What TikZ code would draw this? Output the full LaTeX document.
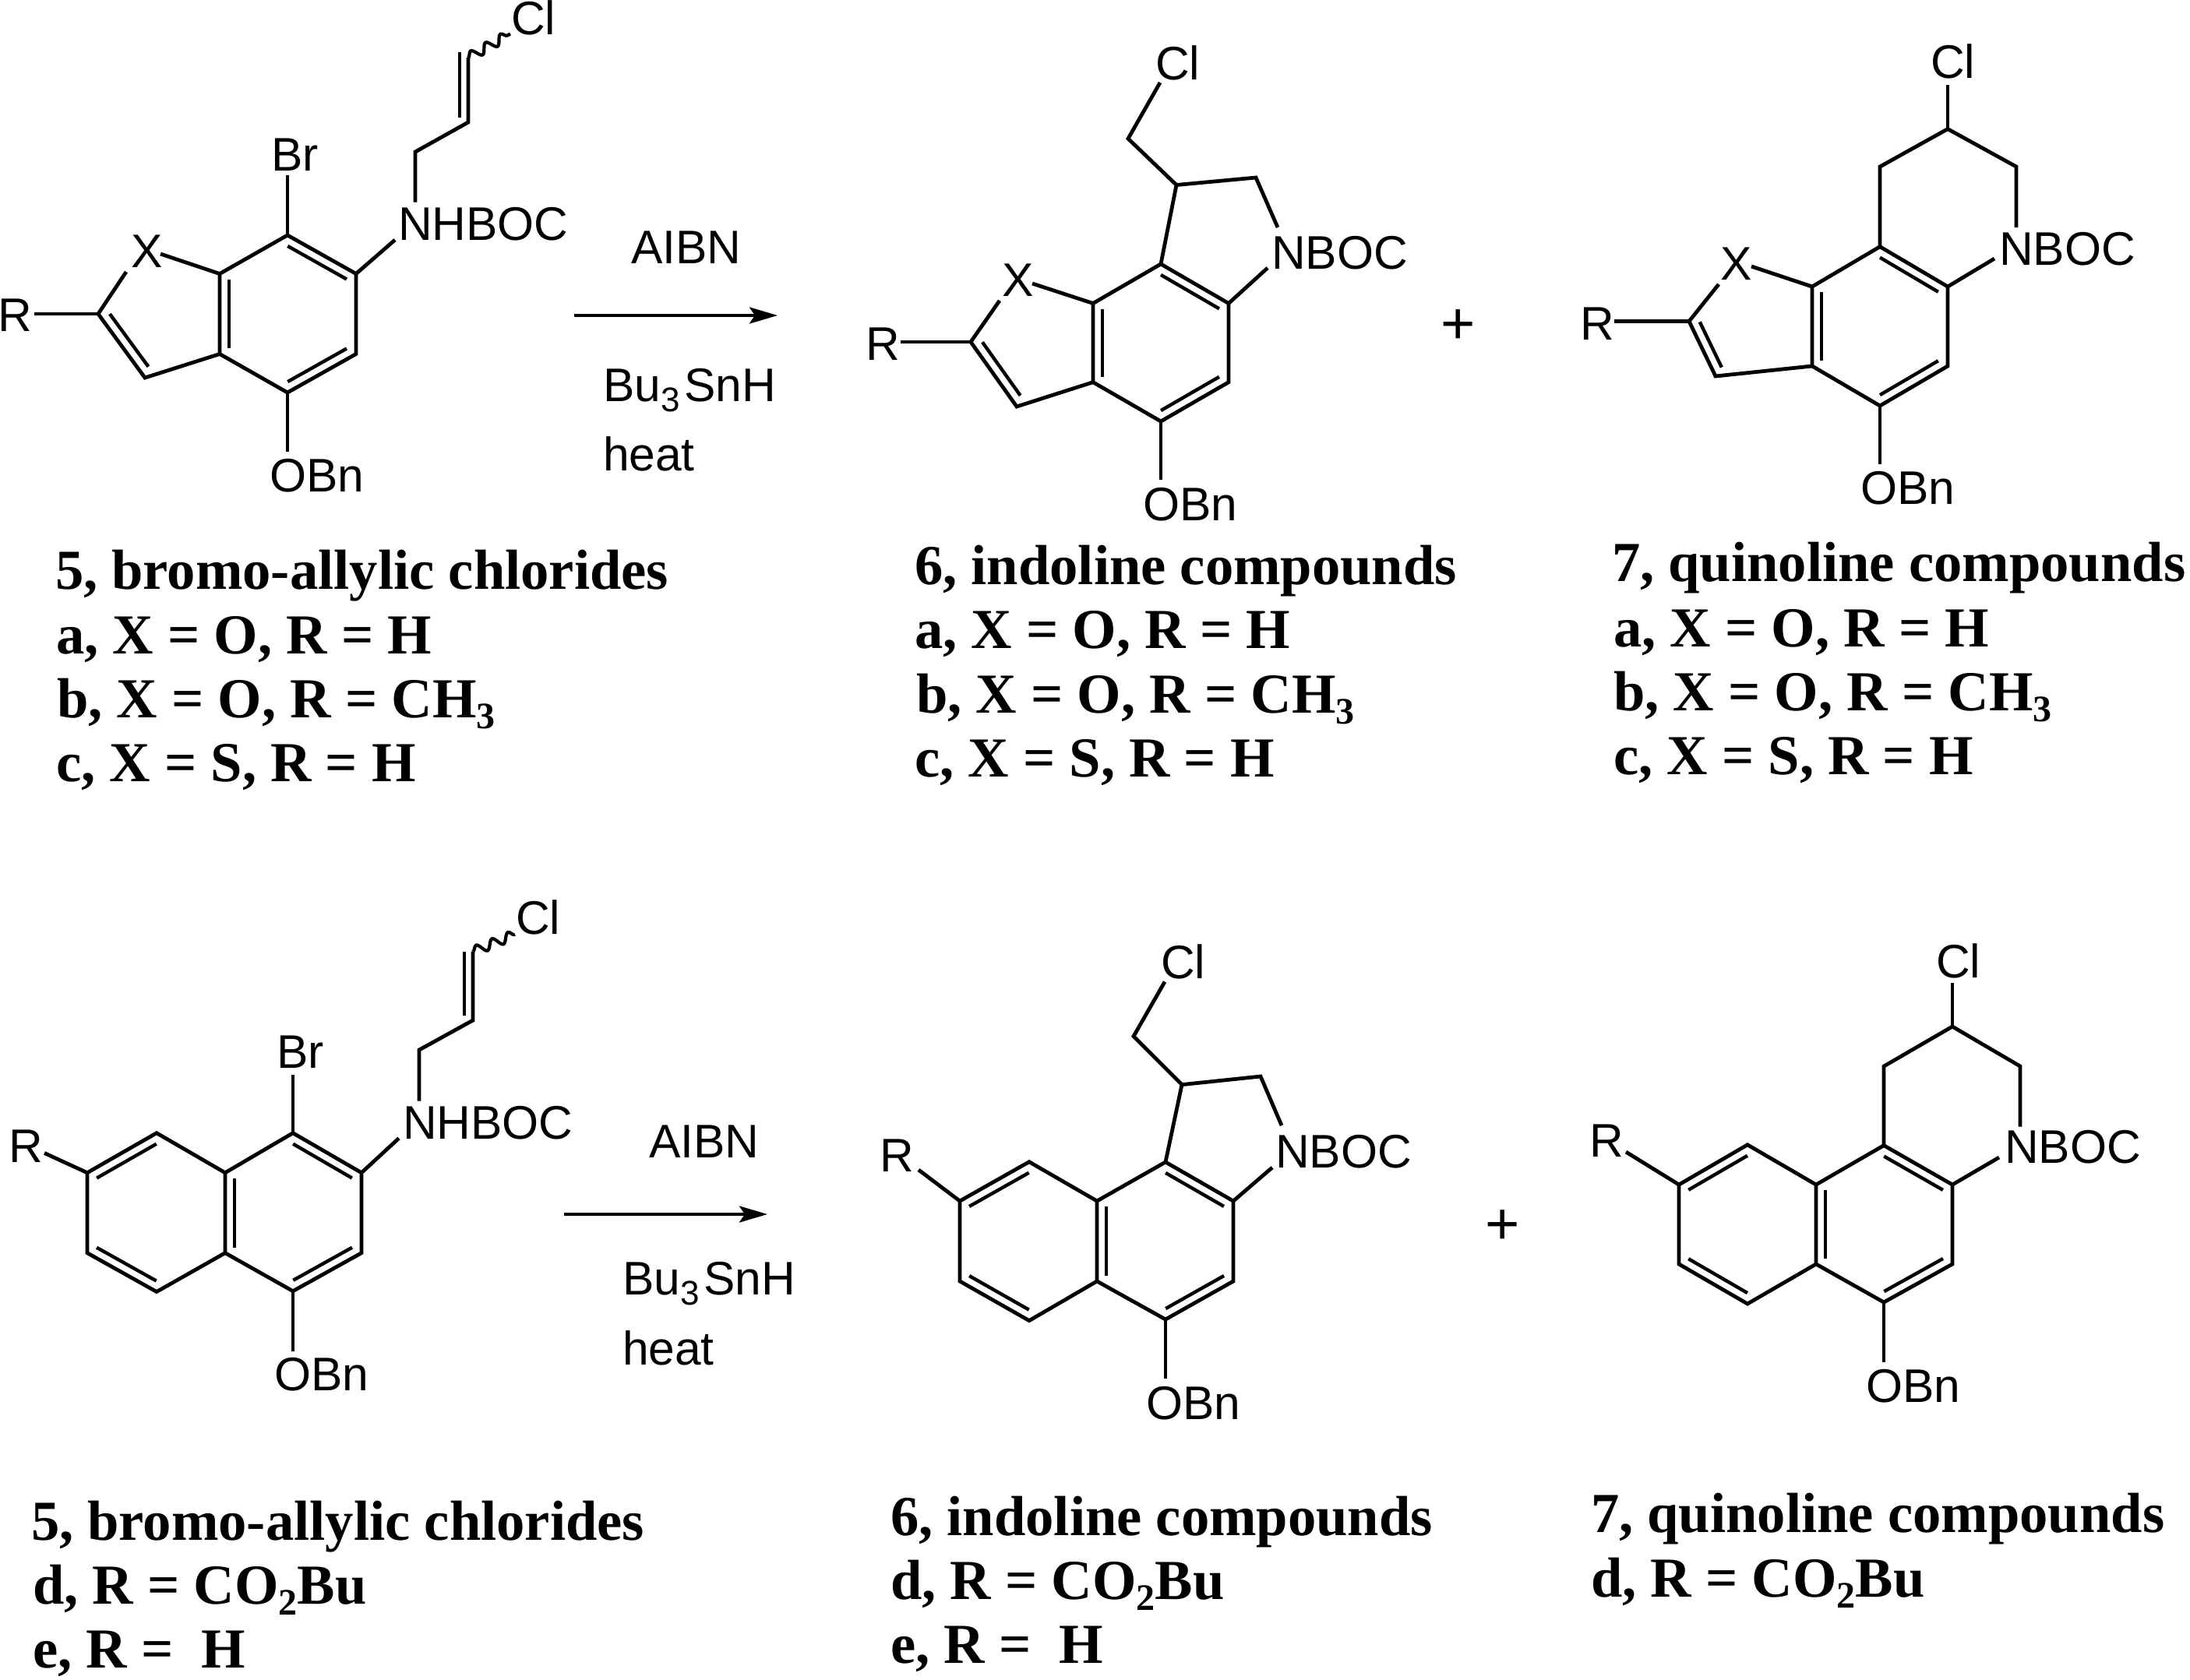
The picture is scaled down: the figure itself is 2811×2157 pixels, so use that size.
\documentclass[tikz,border=0pt]{standalone}
\usepackage{fontspec}
\setmainfont{Liberation Serif}
\newfontfamily\arialish{Liberation Sans}
\usetikzlibrary{calc,arrows.meta,decorations.pathmorphing}
\tikzset{
  x=1pt,y=-1pt,
  bond/.style={line width=4.8pt,line join=miter,line cap=butt,black},
  wavy/.style={line width=4.2pt,black,decorate,decoration={snake,amplitude=6pt,segment length=22pt}},
  rxnarrow/.style={line width=4pt,black,-{Stealth[length=36pt,width=21pt,inset=7pt]}},
  atom/.style={anchor=base west,inner sep=0pt,outer sep=0pt,font=\arialish\fontsize{60.5}{66}\selectfont},
  capt/.style={anchor=base west,inner sep=0pt,outer sep=0pt,font=\bfseries\fontsize{72.6}{80}\selectfont},
}
\newcommand{\capsub}[1]{\raisebox{-14pt}{\fontsize{48}{50}\selectfont #1}}
\newcommand{\reagsub}[1]{\raisebox{-13pt}{\fontsize{44}{46}\selectfont #1}\hspace{6pt}}
% inner line of a double bond, on the right-hand side going from a to b
\newcommand{\dbl}[3][.07]{\draw[bond,line width=4.4pt]
  ($(#2)!#1!(#3)!12pt!-90:(#3)$) -- ($(#3)!#1!(#2)!12pt!90:(#2)$);}
% bond from a vertex to a point fixed relative to a label
\newcommand{\lnk}[4]{\draw[bond] (#1) -- ([shift={(#3,#4)}]#2.base west);}
\begin{document}
\begin{tikzpicture}
\useasboundingbox (0,0) rectangle (2811,2157);
\path[fill=white] (0,0) rectangle (2811,2157);

%% ---------- structure 5 (top) ----------
\path (369,302) coordinate (at) (457,351.5) coordinate (aur) (457,454.5) coordinate (alr)
      (369,504) coordinate (ab) (282,454.5) coordinate (all) (282,351.5) coordinate (aul)
      (186,485) coordinate (ac3) (126,403) coordinate (ac2)
      (533,195) coordinate (ach) (601,157) coordinate (avi) (601,74) coordinate (avj)
      (590,151) coordinate (ain) (590,67.5) coordinate (aio);
\node[atom] (aR) at (-2,425) {R};
\node[atom] (aX) at (168,343) {X};
\node[atom] (aBr) at (348,219) {Br};
\node[atom] (aN) at (511,308) {NHBOC};
\node[atom] (aCl) at (656,45) {Cl};
\node[atom] (aO) at (346,631) {OBn};
\draw[bond] (at) -- (aur) -- (alr) -- (ab) -- (all) -- (aul) -- cycle;
\draw[bond] (aul) -- ([shift={(38,-17)}]aX.base west);
\draw[bond] (all) -- (ac3) -- (ac2) -- ([shift={(-6,6)}]aX.base west);
\lnk{ac2}{aR}{46}{-22}
\lnk{at}{aBr}{21}{5.5}
\lnk{ab}{aO}{23}{-51}
\lnk{aur}{aN}{-4}{0}
\draw[bond] ([shift={(22,-48.5)}]aN.base west) -- (ach) -- (avi) -- (avj);
\draw[bond,line width=4.4pt] (ain) -- (aio);
\draw[wavy] (avj) -- ([shift={(-1,-1.5)}]aCl.base west);
\dbl{at}{aur} \dbl{alr}{ab} \dbl{all}{aul} \dbl[.087]{ac3}{ac2}

%% ---------- structure 6 (top) ----------
\path (1490,339) coordinate (bt) (1577,389.5) coordinate (bur) (1577,490.7) coordinate (blr)
      (1490,541) coordinate (bb) (1403,490.7) coordinate (bll) (1403,389.5) coordinate (bul)
      (1305,522) coordinate (bc3) (1246,439) coordinate (bc2)
      (1510,237.5) coordinate (bch) (1612,228) coordinate (bcj) (1448,178) coordinate (bck);
\node[atom] (bR) at (1111,462) {R};
\node[atom] (bX) at (1286,380) {X};
\node[atom] (bN) at (1632,345) {NBOC};
\node[atom] (bCl) at (1483,102.5) {Cl};
\node[atom] (bO) at (1467,668) {OBn};
\draw[bond] (bt) -- (bur) -- (blr) -- (bb) -- (bll) -- (bul) -- cycle;
\draw[bond] (bul) -- ([shift={(39,-16)}]bX.base west);
\draw[bond] (bll) -- (bc3) -- (bc2) -- ([shift={(-3,6)}]bX.base west);
\lnk{bc2}{bR}{45}{-23}
\lnk{bb}{bO}{23}{-52}
\lnk{bur}{bN}{-5}{-1}
\draw[bond] (bt) -- (bch) -- (bcj) -- ([shift={(8,-53)}]bN.base west);
\draw[bond] (bch) -- (bck) -- ([shift={(6,3.5)}]bCl.base west);
\dbl{bt}{bur} \dbl{blr}{bb} \dbl{bll}{bul} \dbl[.087]{bc3}{bc2}

%% ---------- structure 7 (top) ----------
\path (2413,316.7) coordinate (ct) (2500,368) coordinate (cur) (2500,470) coordinate (clr)
      (2413,521) coordinate (cb) (2326,470) coordinate (cll) (2326,368) coordinate (cul)
      (2202,483) coordinate (cc3) (2168,412.5) coordinate (cc2)
      (2588,214) coordinate (cnu) (2500,165.6) coordinate (cct) (2413,214) coordinate (ccl);
\node[atom] (cR) at (2028,436) {R};
\node[atom] (cX) at (2208,359) {X};
\node[atom] (cN) at (2566,340) {NBOC};
\node[atom] (cCl) at (2478,100) {Cl};
\node[atom] (cO) at (2388,647.5) {OBn};
\draw[bond] (ct) -- (cur) -- (clr) -- (cb) -- (cll) -- (cul) -- cycle;
\draw[bond] (cul) -- ([shift={(40,-17)}]cX.base west);
\draw[bond] (cll) -- (cc3) -- (cc2) -- ([shift={(-2,6)}]cX.base west);
\lnk{cc2}{cR}{44}{-23.5}
\lnk{cb}{cO}{25}{-51.5}
\lnk{cur}{cN}{-6}{-8}
\draw[bond] (ct) -- (ccl) -- (cct) -- (cnu) -- ([shift={(22,-48)}]cN.base west);
\lnk{cct}{cCl}{22}{8.6}
\dbl{ct}{cur} \dbl{clr}{cb} \dbl{cll}{cul} \dbl[.087]{cc3}{cc2}

%% ---------- structure 5 (bottom) ----------
\path (376,1454.7) coordinate (dt) (464,1505.7) coordinate (dur) (464,1608.7) coordinate (dlr)
      (376,1657.7) coordinate (db) (289,1608.7) coordinate (dll) (289,1505.7) coordinate (dul)
      (201,1454.7) coordinate (dlt) (112,1505.7) coordinate (dlu) (112,1608.7) coordinate (dld)
      (201,1658.5) coordinate (dlb)
      (538,1348) coordinate (dch) (607,1310) coordinate (dvi) (607,1221.7) coordinate (dvj)
      (596,1304) coordinate (din) (596,1221.7) coordinate (dio);
\node[atom] (dR) at (11,1492.7) {R};
\node[atom] (dBr) at (355,1371.6) {Br};
\node[atom] (dN) at (517,1462) {NHBOC};
\node[atom] (dCl) at (662,1199.4) {Cl};
\node[atom] (dO) at (352,1785) {OBn};
\draw[bond] (dt) -- (dur) -- (dlr) -- (db) -- (dll) -- (dul) -- cycle;
\draw[bond] (dul) -- (dlt) -- (dlu) -- (dld) -- (dlb) -- (dll);
\lnk{dlu}{dR}{46}{-12.3}
\lnk{dt}{dBr}{21}{8.4}
\lnk{db}{dO}{24}{-50.5}
\lnk{dur}{dN}{-5}{-.6}
\draw[bond] ([shift={(21,-48.3)}]dN.base west) -- (dch) -- (dvi) -- (dvj);
\draw[bond,line width=4.4pt] (din) -- (dio);
\draw[wavy] (dvj) -- ([shift={(-1,.4)}]dCl.base west);
\dbl{dt}{dur} \dbl{dlr}{db} \dbl{dll}{dul} \dbl{dlu}{dlt} \dbl{dlb}{dld}

%% ---------- structure 6 (bottom) ----------
\path (1496,1492) coordinate (et) (1583,1542) coordinate (eur) (1583,1645) coordinate (elr)
      (1496,1694) coordinate (eb) (1408,1645) coordinate (ell) (1408,1542) coordinate (eul)
      (1321,1491.7) coordinate (elt) (1232,1542) coordinate (elu) (1232,1645) coordinate (eld)
      (1321,1695.6) coordinate (elb)
      (1517,1392.6) coordinate (ech) (1618,1382) coordinate (ecj) (1455,1330.5) coordinate (eck);
\node[atom] (eR) at (1129,1504) {R};
\node[atom] (eN) at (1637,1499) {NBOC};
\node[atom] (eCl) at (1490,1256) {Cl};
\node[atom] (eO) at (1471,1822) {OBn};
\draw[bond] (et) -- (eur) -- (elr) -- (eb) -- (ell) -- (eul) -- cycle;
\draw[bond] (eul) -- (elt) -- (elu) -- (eld) -- (elb) -- (ell);
\lnk{elu}{eR}{50}{-2}
\lnk{eb}{eO}{25}{-52}
\lnk{eur}{eN}{-4}{0}
\draw[bond] (et) -- (ech) -- (ecj) -- ([shift={(8,-54)}]eN.base west);
\draw[bond] (ech) -- (eck) -- ([shift={(5,4.5)}]eCl.base west);
\dbl{et}{eur} \dbl{elr}{eb} \dbl{ell}{eul} \dbl{elu}{elt} \dbl{elb}{eld}

%% ---------- structure 7 (bottom) ----------
\path (2418,1470.6) coordinate (ft) (2506,1521) coordinate (fur) (2506,1623) coordinate (flr)
      (2418,1672) coordinate (fb) (2331,1623) coordinate (fll) (2331,1521) coordinate (ful)
      (2243,1469.8) coordinate (flt) (2155,1521) coordinate (flu) (2155,1623) coordinate (fld)
      (2243,1674) coordinate (flb)
      (2593,1369) coordinate (fnu) (2506,1318) coordinate (fct) (2418,1369) coordinate (fcl);
\node[atom] (fR) at (2040,1485.4) {R};
\node[atom] (fN) at (2573,1493) {NBOC};
\node[atom] (fCl) at (2485,1255) {Cl};
\node[atom] (fO) at (2395,1800.6) {OBn};
\draw[bond] (ft) -- (fur) -- (flr) -- (fb) -- (fll) -- (ful) -- cycle;
\draw[bond] (ful) -- (flt) -- (flu) -- (fld) -- (flb) -- (fll);
\lnk{flu}{fR}{47}{-6.4}
\lnk{fb}{fO}{23}{-51.6}
\lnk{fur}{fN}{-7}{-7}
\draw[bond] (ft) -- (fcl) -- (fct) -- (fnu) -- ([shift={(20,-46.4)}]fN.base west);
\lnk{fct}{fCl}{21}{6.7}
\dbl{ft}{fur} \dbl{flr}{fb} \dbl{fll}{ful} \dbl{flu}{flt} \dbl{flb}{fld}

%% ---------- arrows and reagents ----------
\coordinate (rastart) at (737,405);
\coordinate (raend) at (998,405);
\draw[rxnarrow] (rastart) -- (raend);
\node[atom] (raA) at (810,338) {AIBN};
\node[atom] (raB) at (774,515) {Bu\reagsub{3}SnH};
\node[atom] (raC) at (774,604) {heat};
\node[atom,anchor=center,font=\arialish\fontsize{76}{80}\selectfont] (rplusa) at (1872,420) {+};

\coordinate (rbstart) at (724,1559);
\coordinate (rbend) at (985,1559);
\draw[rxnarrow] (rbstart) -- (rbend);
\node[atom] (rbA) at (833,1486) {AIBN};
\node[atom] (rbB) at (799,1662) {Bu\reagsub{3}SnH};
\node[atom] (rbC) at (799,1752) {heat};
\node[atom,anchor=center,font=\arialish\fontsize{76}{80}\selectfont] (rplusb) at (1929,1576) {+};

%% ---------- captions ----------
\node[capt] (t1) at (71,756) {5, bromo-allylic chlorides};
\node[capt] (t2) at (72,839) {a, X = O, R = H};
\node[capt] (t3) at (73,921) {b, X = O, R = CH\capsub{3}};
\node[capt] (t4) at (72,1003) {c, X = S, R = H};

\node[capt] (u1) at (1174,750) {6, indoline compounds};
\node[capt] (u2) at (1174,832) {a, X = O, R = H};
\node[capt] (u3) at (1176,915) {b, X = O, R = CH\capsub{3}};
\node[capt] (u4) at (1174,997) {c, X = S, R = H};

\node[capt] (v1) at (2069,746) {7, quinoline compounds};
\node[capt] (v2) at (2071,830) {a, X = O, R = H};
\node[capt] (v3) at (2071,912) {b, X = O, R = CH\capsub{3}};
\node[capt] (v4) at (2071,994) {c, X = S, R = H};

\node[capt] (w1) at (40,1977) {5, bromo-allylic chlorides};
\node[capt] (w2) at (42,2059) {d, R = CO\capsub{2}Bu};
\node[capt] (w3) at (42,2141) {e, R =\ \ H};

\node[capt] (x1) at (1143,1971) {6, indoline compounds};
\node[capt] (x2) at (1143,2053) {d, R = CO\capsub{2}Bu};
\node[capt] (x3) at (1143,2135) {e, R =\ \ H};

\node[capt] (y1) at (2042,1967) {7, quinoline compounds};
\node[capt] (y2) at (2042,2050) {d, R = CO\capsub{2}Bu};
\end{tikzpicture}
\end{document}
